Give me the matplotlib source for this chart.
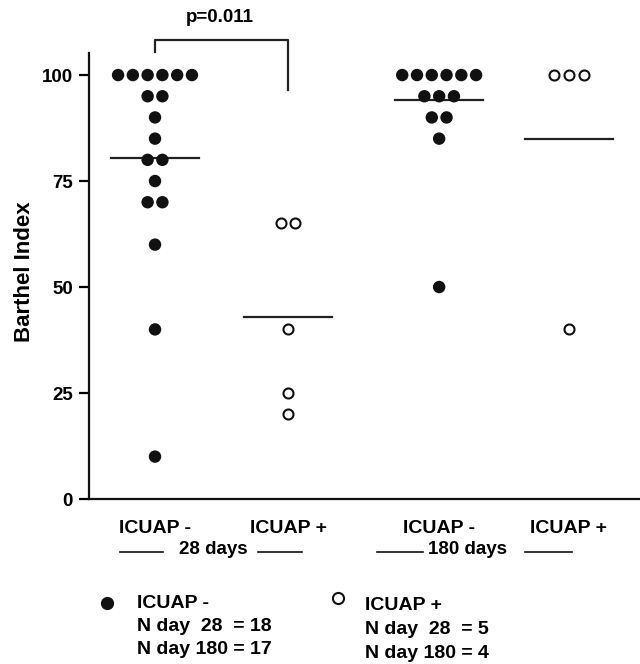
import matplotlib
matplotlib.use("Agg")
import matplotlib.pyplot as plt
from matplotlib.lines import Line2D
from collections import Counter

plt.rcParams['font.family'] = ['Liberation Sans', 'DejaVu Sans']
plt.rcParams['font.weight'] = 'bold'

# ---- data ----
groups = ["ICUAP -", "ICUAP +", "ICUAP -", "ICUAP +"]
icuap_neg_28 = [100, 100, 100, 100, 100, 100, 95, 95, 90, 85, 80, 80, 75, 70, 70, 60, 40, 10]
icuap_pos_28 = [65, 65, 40, 25, 20]
icuap_neg_180 = [100, 100, 100, 100, 100, 100, 95, 95, 95, 90, 90, 85, 50]
icuap_pos_180 = [100, 100, 100, 40]
mean_lines = [80.5, 43, 94, 85]
filled = [True, False, True, False]
yticks = [0, 25, 50, 75, 100]
period_labels = ["28 days", "180 days"]
p_text = "p=0.011"
y_label = "Barthel Index"
legend_neg = ["ICUAP -", "N day  28  = 18", "N day 180 = 17"]
legend_pos = ["ICUAP +", "N day  28  = 5", "N day 180 = 4"]

# ---- layout ----
W, H = 640, 664
fig = plt.figure(figsize=(W / 100, H / 100), dpi=100)
ax = fig.add_axes([89 / W, (H - 499) / H, 1 - 89 / W, (499 - 53) / H])

positions = [1.0, 2.0, 3.135, 4.11]
series = [icuap_neg_28, icuap_pos_28, icuap_neg_180, icuap_pos_180]
gap = 0.111
FS = 13.5

for pos, vals, fill, m in zip(positions, series, filled, mean_lines):
    counts = Counter(vals)
    xs, ys = [], []
    for v, n in counts.items():
        for i in range(n):
            xs.append(pos + (i - (n - 1) / 2) * gap)
            ys.append(v)
    if fill:
        ax.scatter(xs, ys, s=80, c='#111111', edgecolors='none', zorder=3, clip_on=False)
    else:
        ax.scatter(xs, ys, s=52, facecolors='white', edgecolors='#111111',
                   linewidths=1.5, zorder=3, clip_on=False)
    ax.plot([pos - 0.33, pos + 0.33], [m, m], color='#222222', lw=1.6, zorder=2)

ax.set_xlim(0.504, 4.644)
ax.set_ylim(0, 105.2)
for s in ['top', 'right']:
    ax.spines[s].set_visible(False)
for s in ['left', 'bottom']:
    ax.spines[s].set_linewidth(1.6)
    ax.spines[s].set_color('#111111')
ax.set_yticks(yticks)
ax.set_yticklabels([str(t) for t in yticks], fontsize=FS, fontweight='bold')
ax.tick_params(axis='y', length=7.5, width=1.6, pad=4)
ax.set_xticks(positions)
ax.set_xticklabels(groups, fontsize=14, fontweight='bold')
ax.tick_params(axis='x', length=0, pad=15)


def fx(x):
    return x / W


def fy(y):
    return 1 - y / H


fig.text(fx(25), fy(272), y_label, rotation=90, ha='center', va='center',
         fontsize=16, fontweight='bold')

# significance bracket
ax.plot([positions[0], positions[0], positions[1], positions[1]],
        [105.5, 108.3, 108.3, 96.5], color='#222222', lw=1.6, clip_on=False)

fig.text(fx(220), fy(18), p_text, ha='center', va='center', fontsize=FS, fontweight='bold')

# period labels with lines
fig.text(fx(213), fy(550), period_labels[0], ha='center', va='center', fontsize=FS, fontweight='bold')
fig.text(fx(467), fy(550), period_labels[1], ha='center', va='center', fontsize=FS, fontweight='bold')
for x0, x1 in [(120, 163), (258, 302), (377, 423), (525, 572)]:
    fig.add_artist(Line2D([fx(x0), fx(x1)], [fy(552), fy(552)], color='#111111', lw=1.2,
                          transform=fig.transFigure))

# legend
fig.add_artist(Line2D([fx(107)], [fy(603)], marker='o', markersize=9.5, color='#111111',
                      markeredgewidth=0, transform=fig.transFigure))
fig.add_artist(Line2D([fx(338)], [fy(598)], marker='o', markersize=8, markerfacecolor='white',
                      markeredgecolor='#111111', markeredgewidth=1.5, transform=fig.transFigure))
for i, t in enumerate(legend_neg):
    fig.text(fx(137), fy(603 + i * 23.5), t, ha='left', va='center', fontsize=14, fontweight='bold')
for i, t in enumerate(legend_pos):
    fig.text(fx(365), fy(606 + i * 23.5), t, ha='left', va='center', fontsize=14, fontweight='bold')

fig.savefig("out.png", dpi=100)
